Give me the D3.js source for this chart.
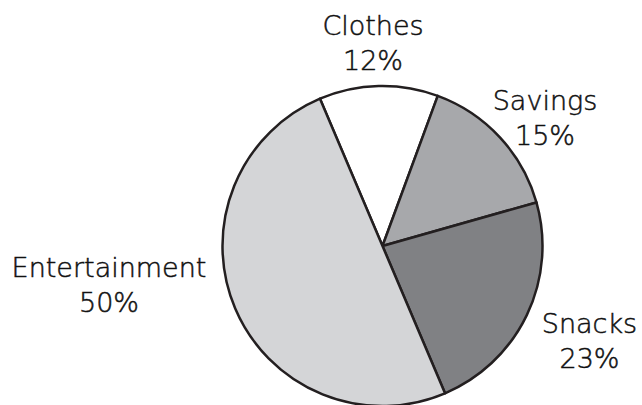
<!DOCTYPE html>
<html>
<head>
<meta charset="utf-8">
<script src="https://cdn.jsdelivr.net/npm/d3@7"></script>
<style>
  html, body { margin: 0; padding: 0; background: #fff; }
  svg { display: block; }
  text { font-family: "DejaVu Sans", sans-serif; font-weight: 200; fill: #111; stroke: #111; stroke-width: 0.5px; }
</style>
</head>
<body>
<svg id="chart" width="642" height="405"></svg>
<script>
// Budget shares (percent)
const categories = ["Clothes", "Savings", "Snacks", "Entertainment"];
const shares = [12, 15, 23, 50];
const fills = ["#ffffff", "#a7a8ab", "#808184", "#d4d5d7"];

// Label anchors (centre x, first-line baseline), relative to the pie centre
const labelOffsets = {
  Clothes: [-9.5, -211],
  Savings: [162.5, -136],
  Snacks: [207, 87],
  Entertainment: [-273.5, 31]
};

const width = 642, height = 405;
const cx = 382.5, cy = 246, radius = 160;

const svg = d3.select("#chart");
const g = svg.append("g").attr("transform", `translate(${cx},${cy})`);

const data = categories.map((c, i) => ({ name: c, value: shares[i], fill: fills[i] }));

const startDeg = -23;
const pie = d3.pie()
  .value(d => d.value)
  .sort(null)
  .startAngle(startDeg * Math.PI / 180)
  .endAngle((startDeg + 360) * Math.PI / 180);

const arc = d3.arc().innerRadius(0).outerRadius(radius);

g.selectAll("path.slice")
  .data(pie(data))
  .join("path")
  .attr("class", "slice")
  .attr("d", arc)
  .attr("fill", d => d.data.fill)
  .attr("stroke", "#231f20")
  .attr("stroke-width", 2.5)
  .attr("stroke-linejoin", "round");

const labels = g.selectAll("text.label")
  .data(data)
  .join("text")
  .attr("class", "label")
  .attr("text-anchor", "middle")
  .attr("font-size", 27)
  .attr("transform", d => `translate(${labelOffsets[d.name][0]},${labelOffsets[d.name][1]})`);

labels.append("tspan").attr("x", 0).attr("y", 0).text(d => d.name);
labels.append("tspan").attr("x", 0).attr("y", 34.5).text(d => d.value + "%");
</script>
</body>
</html>
